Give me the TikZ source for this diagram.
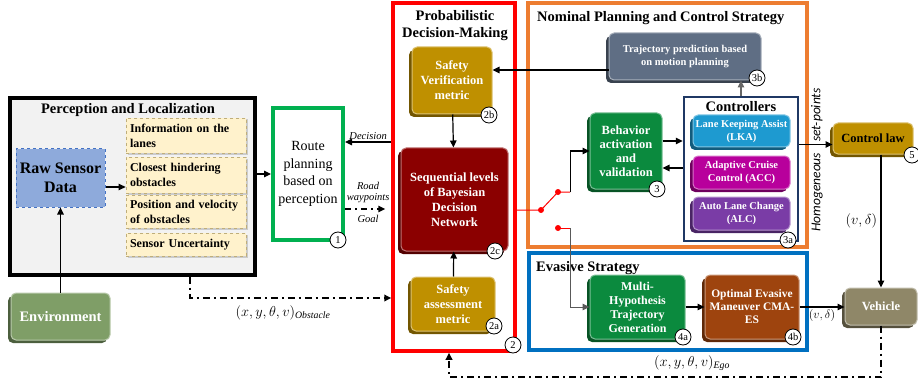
\documentclass[tikz,border=0pt]{standalone}
\usepackage{fontspec}
\setmainfont{Liberation Serif}
\newfontfamily\carlito{Carlito}
\usepackage{xcolor}
\usepackage{tikz}
\usetikzlibrary{
	arrows.meta,shadows
}
\newcommand{\fsz}[2]{\fontsize{#1}{#2}\selectfont}
\definecolor{pgray}{HTML}{F2F2F2}
\definecolor{rawblue}{HTML}{8EAADB}
\definecolor{rawedge}{HTML}{4472C4}
\definecolor{infoyel}{HTML}{FFF2CC}
\definecolor{infoedge}{HTML}{BFAE7A}
\definecolor{envgreen}{HTML}{7F9E67}
\definecolor{routegreen}{HTML}{00B050}
\definecolor{gold}{HTML}{BF9000}
\definecolor{bayred}{HTML}{8B0000}
\definecolor{nomorange}{HTML}{ED7D31}
\definecolor{trajgray}{HTML}{5F6E84}
\definecolor{ctrlnavy}{HTML}{1F3864}
\definecolor{lkablue}{HTML}{1E9AD0}
\definecolor{accmag}{HTML}{B8009C}
\definecolor{alcpurple}{HTML}{7A3CA6}
\definecolor{behgreen}{HTML}{0B8A3E}
\definecolor{evablue}{HTML}{0070C0}
\definecolor{cmabrown}{HTML}{9E440E}
\definecolor{vehkhaki}{HTML}{8F8768}

\begin{document}
\begin{tikzpicture}[x=1pt,y=-1pt,>={Triangle[length=7pt,width=6.5pt]},
	group/.style={draw=#1,line width=3.5pt,inner sep=0pt},
	heading/.style={font=\bfseries\fsz{14.5}{17},align=center,inner sep=0pt},
	bevel/.style={fill=#1,draw=#1!55!white,line width=1pt,rounded corners=5pt,
		text=white,align=center,inner sep=1pt,font=\bfseries\fsz{12.5}{15},
		general shadow={fill=#1!60!black,shadow xshift=-3pt,shadow yshift=-3pt}},
	info/.style={draw=infoedge,dashed,fill=infoyel,line width=0.8pt,
		minimum width=120pt,text width=112pt,align=left,inner sep=3pt,
		font=\bfseries\fsz{12}{15},
		general shadow={fill=black!20,shadow xshift=1.5pt,shadow yshift=-1.5pt}},
	badge/.style={circle,draw,fill=white,line width=0.8pt,minimum size=16pt,
		inner sep=0pt,font=\fsz{10.5}{10.5}},
	lab/.style={font=\itshape\fsz{10.5}{11},inner sep=2pt,align=center},
	maths/.style={font=\fsz{14}{14}},
	ego/.style={line width=2pt,dash pattern=on 7pt off 4pt on 2pt off 4pt}]
		\useasboundingbox (0,0) rectangle (918,385);
		%
		\node[group=black,fill=pgray,minimum width=245pt,minimum height=177pt] (PL) at (132.5,186.5) {};
		\node[heading] (PLt) at (128,110) {Perception and Localization};
		\node[draw=rawedge,dashed,fill=rawblue,line width=1pt,minimum width=89pt,minimum height=58pt,
			align=center,font=\bfseries\fsz{16}{19}] (RS) at (60.5,178) {Raw Sensor\\Data};
		\node[info,minimum height=35pt] (IL) at (186,135.5) {Information on the\\lanes};
		\node[info,minimum height=36pt] (CH) at (186,175) {Closest hindering\\obstacles};
		\node[info,minimum height=33pt] (PV) at (186,211.5) {Position and velocity\\of obstacles};
		\node[info,minimum height=23pt] (SU) at (186,244.5) {Sensor Uncertainty};
		\node[bevel=envgreen,minimum width=99pt,minimum height=47pt,font=\bfseries\fsz{14.5}{17}] (ENV) at (60.5,316.5) {Environment};
		
		\node[group=routegreen,line width=4pt,minimum width=70pt,minimum height=132pt,
			align=center,font=\fsz{14}{17.5}] (R) at (308,174) {Route\\planning\\based on\\perception};
		
		\node[group=red,minimum width=122pt,minimum height=348pt] (PD) at (454,177) {};
		\node[heading] (PDt) at (455,26) {Probabilistic\\Decision-Making};
		\node[bevel=gold,minimum width=80pt,minimum height=67pt] (VM) at (452,80.5) {Safety\\Verification\\metric};
		\node[bevel=bayred,minimum width=107pt,minimum height=103pt] (BN) at (454.5,199.5) {Sequential levels\\of Bayesian\\Decision\\Network};
		\node[bevel=gold,minimum width=84pt,minimum height=54pt] (SA) at (453,304) {Safety\\assessment\\metric};
		
		\node[group=nomorange,minimum width=279pt,minimum height=244pt] (NP) at (667.5,125) {};
		\node[heading,anchor=west] (NPt) at (537,18) {Nominal Planning and Control Strategy};
		\node[bevel=trajgray,minimum width=152pt,minimum height=47pt,font=\bfseries\fsz{10.5}{13}] (TP) at (685,56.5) {Trajectory prediction based\\on motion planning};
		\node[bevel=behgreen,minimum width=72pt,minimum height=76pt,font=\bfseries\fsz{12.5}{14}] (BA) at (626,151) {Behavior\\activation\\and\\validation};
		\node[group=ctrlnavy,line width=2.5pt,minimum width=114pt,minimum height=144pt] (CT) at (741,169) {};
		\node[heading] (CTt) at (741,107) {Controllers};
		\node[bevel=lkablue,minimum width=97pt,minimum height=32pt,font=\bfseries\fsz{10.5}{13}] (LKA) at (741.5,131) {Lane Keeping Assist\\(LKA)};
		\node[bevel=accmag,minimum width=97pt,minimum height=33pt,font=\bfseries\fsz{10.5}{13}] (ACC) at (741.5,172.5) {Adaptive Cruise\\Control (ACC)};
		\node[bevel=alcpurple,minimum width=97pt,minimum height=33pt,font=\bfseries\fsz{10.5}{13}] (ALC) at (741.5,213.5) {Auto Lane Change\\(ALC)};
		
		\node[group=evablue,minimum width=278pt,minimum height=97pt] (ES) at (668,301.5) {};
		\node[heading,anchor=west] (ESt) at (536,268) {Evasive Strategy};
		\node[bevel=behgreen,minimum width=95pt,minimum height=64pt,font=\bfseries\fsz{12}{14}] (MH) at (637.5,307) {Multi-\\Hypothesis\\Trajectory\\Generation};
		\node[bevel=cmabrown,minimum width=94pt,minimum height=64pt,font=\bfseries\fsz{11.5}{13}] (OE) at (752,307) {Optimal Evasive\\Maneuver CMA-\\ES};
		
		\node[bevel=gold,text=black,minimum width=80pt,minimum height=31pt] (CL) at (873,138.5) {Control law};
		\node[bevel=vehkhaki,minimum width=72pt,minimum height=37pt] (VE) at (881,306.5) {Vehicle};
		\node[rotate=90,font=\carlito\itshape\fsz{13.5}{13.5}] (HS) at (817,160) {Homogeneous \hspace{8pt}set-points};
		
		\node[badge] (b1) at (338,240) {1};
		\node[badge] (b2) at (513,345) {2};
		\node[badge] (b2a) at (494,326) {2a};
		\node[badge] (b2b) at (489,115) {2b};
		\node[badge] (b2c) at (495,251) {2c};
		\node[badge] (b3) at (657,189) {3};
		\node[badge] (b3a) at (788,240) {3a};
		\node[badge] (b3b) at (757,78) {3b};
		\node[badge] (b4a) at (683,337) {4a};
		\node[badge] (b4b) at (793,337) {4b};
		\node[badge] (b5) at (912,155) {5};
		%
		\coordinate (rc) at ([yshift=-9pt]RS.east);
		\coordinate (dec) at ([yshift=32pt]R.east);
		\coordinate (way) at ([yshift=-35pt]R.east);
		\coordinate (tv) at ([yshift=-13.5pt]TP.west);
		\coordinate (ba1) at ([yshift=10pt]BA.east);
		\coordinate (ba2) at ([yshift=-17pt]BA.east);
		\coordinate (sp) at ([yshift=-6pt]CL.west);
		\coordinate (sw) at (541,210);
		\coordinate (sa) at (558,192);
		\coordinate (sb) at (558,228);
		\coordinate (ta) at (570,192);
		\coordinate (tb) at (570,228);
		\coordinate (ob) at (190,298);
		\coordinate (eg) at (449,377);
		%
		\path[->,line width=1.2pt]
		(ENV) edge (RS)
		(rc) edge (rc -| CH.west)
		(PL.east |- R.west) edge (R.west)
		(dec -| PD.west) edge node[above,lab] {Decision} (dec)
		(VM) edge (BN)
		(SA) edge (BN)
		(tv) edge (tv -| VM.east)
		(ba1) edge (ba1 -| CT.west)
		(ba2 -| CT.west) edge (ba2)
		(sp -| CT.east) edge (sp)
		(VE.north |- CL.south) edge node[left,maths] {$(v,\delta)$} (VE.north)
		(MH.east) edge (MH.east -| OE.west)
		(OE.east) edge node[below,font=\fsz{13}{13},pos=0.5,inner sep=2pt] {$(v,\delta)$} (OE.east -| VE.west);
		
		\path[->,line width=1.2pt,gray!80!black]
		(CT.north) edge (CT.north |- TP.south);
		
		\draw[->,line width=1.5pt,dash pattern=on 6pt off 4pt on 2pt off 4pt,shorten >=6pt]
		(way) -- node[above=3pt,lab] {Road\\waypoints} node[below=3pt,lab] {Goal} (way -| PD.west);
		\draw[->,ego] (ob |- PL.south) |- (ob -| PD.west);
		\node[maths] (obl) at (283,313) {$(x,y,\theta,v)_{\mathit{Obstacle}}$};
		\draw[->,ego] (VE.south) |- (eg) -- (eg |- PD.south);
		\node[maths] (egl) at (692,363) {$(x,y,\theta,v)_{\mathit{Ego}}$};
		%
		\draw[red,line width=1pt] (PD.east |- sw) -- (sw) -- (sa) -- (ta);
		\draw[red,line width=1pt] (sb) -- (tb);
		\fill[red] (sw) circle (3pt) (sa) circle (3pt) (sb) circle (3pt);
		\draw[->,line width=1pt] (ta) |- (BA.west);
		\draw[->,line width=1pt,gray!70!black] (tb) |- (MH.west);
	\end{tikzpicture}
\end{document}
